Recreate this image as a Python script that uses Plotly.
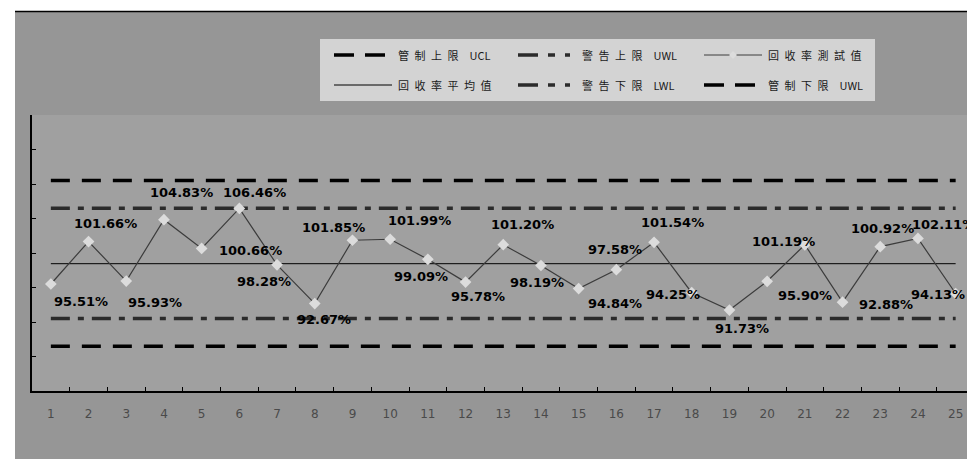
import plotly.graph_objects as go

# ---------------- data ----------------
CATEGORIES = list(range(1, 26))
TICK_LABELS = [str(c) for c in CATEGORIES]
RECOVERY = [95.51, 101.66, 95.93, 104.83, 100.66, 106.46, 98.28, 92.67, 101.85, 101.99,
            99.09, 95.78, 101.20, 98.19, 94.84, 97.58, 101.54, 94.25, 91.73, 95.90,
            101.19, 92.88, 100.92, 102.11, 94.13]
MEAN_VALUE = 98.45
UCL_VALUE = 110.5
UWL_VALUE = 106.5
LWL_VALUE = 90.5
LCL_VALUE = 86.5
Y_TICKS = [80, 85, 90, 95, 100, 105, 110, 115, 120]

NAME_UCL = "管制上限 UCL"
NAME_UWL = "警告上限 UWL"
NAME_TEST = "回收率測試值"
NAME_MEAN = "回收率平均值"
NAME_LWL = "警告下限 LWL"
NAME_LCL = "管制下限 UWL"

# label offsets in pixels (right, down) relative to each point
LABEL_OFFSETS = [(30, 18), (17, -18), (29, 21), (18, -27), (49, 2), (15, -16), (-13, 17),
                 (9, 16), (-19, -13), (29, -19), (-7, 17), (12, 14), (19, -20), (-4, 17),
                 (36, 15), (-1, -20), (18, -20), (-19, 2), (13, 18), (38, 14), (-21, -3),
                 (43, 2), (2, -18), (26, -14), (-18, 1)]

# ---------------- layout geometry ----------------
W, H = 967, 459
ML, MR, MT, MB = 32, 0, 115, 68
PW, PH = W - ML - MR, H - MT - MB
CAT_W = 37.7
X_RANGE = [0.5, 0.5 + PW / CAT_W]


def px(x):
    return (x - ML) / PW


def py(y):
    return (H - MB - y) / PH


OUTER_BG = "#969696"
PLOT_BG = "#a0a0a0"
LEGEND_BG = "#d3d3d3"

DASH_LONG = "19px,12px"
DASH_LONGDOT = "19px,8px,6px,8px"

fig = go.Figure()

n = len(CATEGORIES)
fig.add_trace(go.Scatter(x=CATEGORIES, y=[UCL_VALUE] * n, name=NAME_UCL, mode="lines",
                         line=dict(color="#000000", width=3.5, dash=DASH_LONG), hoverinfo="skip"))
fig.add_trace(go.Scatter(x=CATEGORIES, y=[UWL_VALUE] * n, name=NAME_UWL, mode="lines",
                         line=dict(color="#2b2b2b", width=3.5, dash=DASH_LONGDOT), hoverinfo="skip"))
fig.add_trace(go.Scatter(x=CATEGORIES, y=[LWL_VALUE] * n, name=NAME_LWL, mode="lines",
                         line=dict(color="#2b2b2b", width=3.5, dash=DASH_LONGDOT), hoverinfo="skip"))
fig.add_trace(go.Scatter(x=CATEGORIES, y=[LCL_VALUE] * n, name=NAME_LCL, mode="lines",
                         line=dict(color="#000000", width=3.5, dash=DASH_LONG), hoverinfo="skip"))
fig.add_trace(go.Scatter(x=CATEGORIES, y=[MEAN_VALUE] * n, name=NAME_MEAN, mode="lines",
                         line=dict(color="#000000", width=1), hoverinfo="skip"))
fig.add_trace(go.Scatter(x=CATEGORIES, y=RECOVERY, name=NAME_TEST, mode="lines+markers",
                         line=dict(color="#3c3c3c", width=1.2),
                         marker=dict(symbol="diamond", size=9, color="#dcdcdc",
                                     line=dict(width=0))))

# data labels
annotations = []
for c, v, (dx, dy) in zip(CATEGORIES, RECOVERY, LABEL_OFFSETS):
    annotations.append(dict(x=c, y=v, xref="x", yref="y", text=f"{v:.2f}%",
                            showarrow=False, xshift=dx, yshift=-dy,
                            xanchor="center", yanchor="middle",
                            font=dict(family="DejaVu Sans", size=13, color="#000000",
                                      weight="bold")))

# ---------------- background decorations ----------------
shapes = [
    dict(type="rect", xref="paper", yref="paper", x0=px(-20), x1=px(1000), y0=py(11), y1=py(-20),
         fillcolor="#ffffff", line=dict(width=0), layer="above"),
    dict(type="rect", xref="paper", yref="paper", x0=px(-20), x1=px(15), y0=py(480), y1=py(-20),
         fillcolor="#ffffff", line=dict(width=0), layer="above"),
    dict(type="line", xref="paper", yref="paper", x0=px(15), x1=px(980), y0=py(11.5), y1=py(11.5),
         line=dict(color="#000000", width=1.5), layer="above"),
    # legend box
    dict(type="rect", xref="paper", yref="paper", x0=px(320), x1=px(875), y0=py(101), y1=py(39),
         fillcolor=LEGEND_BG, line=dict(width=0), layer="above"),
]

# ---------------- manual legend ----------------
LEG_COLS = [334, 518, 704]
LEG_ROWS = [55, 85]
legend_items = [
    (NAME_UCL, 0, 0, dict(color="#000000", width=3.5, dash="20px,11px"), False),
    (NAME_UWL, 0, 1, dict(color="#2b2b2b", width=3.5, dash="20px,10px,7px,10px"), False),
    (NAME_TEST, 0, 2, dict(color="#3c3c3c", width=1), True),
    (NAME_MEAN, 1, 0, dict(color="#000000", width=1), False),
    (NAME_LWL, 1, 1, dict(color="#2b2b2b", width=3.5, dash="20px,10px,7px,10px"), False),
    (NAME_LCL, 1, 2, dict(color="#000000", width=3.5, dash="20px,11px"), False),
]


def spaced(name):
    parts = name.split(" ")
    cjk = "\u2002".join(list(parts[0]))
    if len(parts) > 1:
        return cjk + "\u2003" + parts[1]
    return cjk


for name, r, c, ln, marker in legend_items:
    x0 = LEG_COLS[c]
    y0 = LEG_ROWS[r]
    length = 58 if ln.get("dash") is None else 52
    shapes.append(dict(type="line", xref="paper", yref="paper", x0=px(x0), x1=px(x0 + length),
                       y0=py(y0), y1=py(y0), line=ln, layer="above"))
    if marker:
        cx = x0 + length / 2
        d = 4
        path = (f"M {px(cx - d)} {py(y0)} L {px(cx)} {py(y0 - d)} L {px(cx + d)} {py(y0)} "
                f"L {px(cx)} {py(y0 + d)} Z")
        shapes.append(dict(type="path", xref="paper", yref="paper", path=path,
                           fillcolor="#dcdcdc", line=dict(width=0), layer="above"))
    annotations.append(dict(x=px(x0 + 62), y=py(y0), xref="paper", yref="paper",
                            text=spaced(name), showarrow=False, xanchor="left", yanchor="middle",
                            font=dict(family="Noto Sans CJK TC", size=11, color="#1a1a1a")))

fig.update_layout(
    width=W, height=H,
    margin=dict(l=ML, r=MR, t=MT, b=MB, pad=0),
    paper_bgcolor=OUTER_BG,
    plot_bgcolor=PLOT_BG,
    showlegend=False,
    shapes=shapes,
    annotations=annotations,
    xaxis=dict(range=X_RANGE, tickmode="array", tickvals=CATEGORIES, ticktext=TICK_LABELS,
               ticks="", showgrid=False, zeroline=False, showline=True, linecolor="#000000",
               linewidth=1.5, ticklabelstandoff=11,
               tickfont=dict(family="DejaVu Sans", size=12, color="#4a4a4a"),
               minor=dict(tickmode="array", tickvals=[c + 0.5 for c in CATEGORIES],
                          ticks="inside", ticklen=4, tickwidth=1, tickcolor="#000000",
                          showgrid=False)),
    yaxis=dict(range=[Y_TICKS[0], Y_TICKS[-1]], tickmode="array", tickvals=Y_TICKS,
               ticks="inside", ticklen=4, tickwidth=1, tickcolor="#000000",
               showticklabels=False, showgrid=False, zeroline=False, showline=True,
               linecolor="#000000", linewidth=1.5),
)

fig.write_html("out.html")
